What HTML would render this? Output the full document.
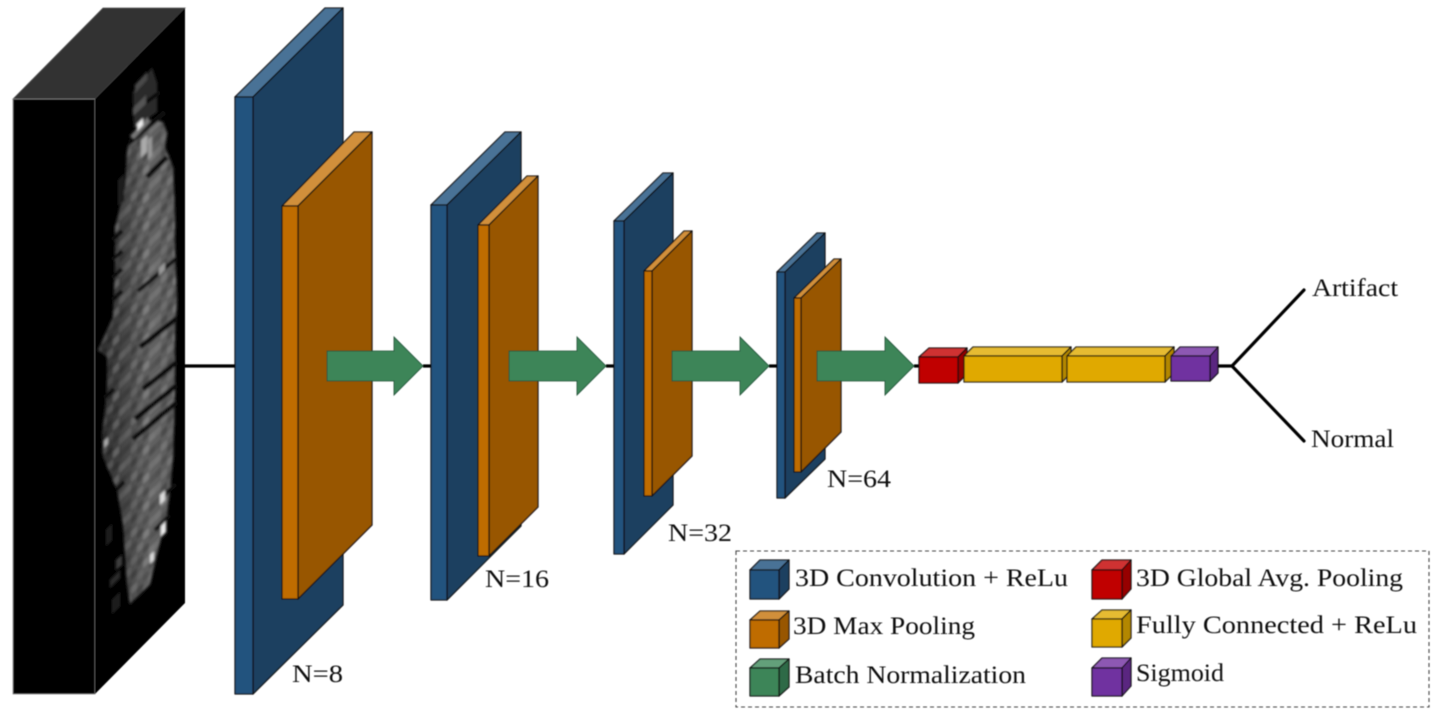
<!DOCTYPE html>
<html><head><meta charset="utf-8"><style>
html,body{margin:0;padding:0;background:#fff;width:1442px;height:717px;overflow:hidden}
svg{display:block}
text{font-family:"Liberation Serif",serif;font-size:25px;fill:#111}
.bl .f{fill:#24527e}.bl .s{fill:#1a3f60}.bl .t{fill:#4a7296}
.or .f{fill:#bf6c00}.or .s{fill:#985700}.or .t{fill:#d18f3a}
.gr .f{fill:#3c8558}.gr .s{fill:#2f6b46}.gr .t{fill:#63a07a}
.re .f{fill:#c00000}.re .s{fill:#960000}.re .t{fill:#cf3333}
.ye .f{fill:#e0a900}.ye .s{fill:#b38700}.ye .t{fill:#e6bb33}
.pu .f{fill:#7030a0}.pu .s{fill:#5a2680}.pu .t{fill:#8d59b3}
.b polygon{stroke:#111;stroke-opacity:.9;stroke-width:1.3;stroke-linejoin:round}
.l line{stroke:#000;stroke-width:3.2}
.d line{stroke:#0a0a0a}
</style></head><body>
<svg width="1442" height="717" viewBox="0 0 1442 717" xmlns="http://www.w3.org/2000/svg">
<defs>
<filter id="soft" x="-2%" y="-2%" width="104%" height="104%"><feGaussianBlur stdDeviation="0.45"/></filter>
<filter id="blur1" filterUnits="userSpaceOnUse" x="90" y="0" width="100" height="700"><feGaussianBlur stdDeviation="1.1"/></filter>
<linearGradient id="lg" gradientUnits="userSpaceOnUse" x1="100" y1="0" x2="176" y2="0">
<stop offset="0" stop-color="#2e2e2e"/><stop offset=".35" stop-color="#484848"/><stop offset=".65" stop-color="#626262"/><stop offset="1" stop-color="#5a5a5a"/>
</linearGradient>
<pattern id="cells" width="30" height="56" patternUnits="userSpaceOnUse" patternTransform="matrix(1 -1.01 0 1 95 99)">
<rect x="0" y="0" width="6" height="7" fill="#fff" opacity=".10"/>
<rect x="12" y="0" width="6" height="7" fill="#000" opacity=".18"/>
<rect x="24" y="0" width="6" height="7" fill="#fff" opacity=".14"/>
<rect x="6" y="7" width="6" height="7" fill="#000" opacity=".2"/>
<rect x="18" y="7" width="6" height="7" fill="#fff" opacity=".18"/>
<rect x="0" y="14" width="6" height="7" fill="#000" opacity=".12"/>
<rect x="12" y="14" width="6" height="7" fill="#fff" opacity=".08"/>
<rect x="24" y="14" width="6" height="7" fill="#000" opacity=".2"/>
<rect x="6" y="21" width="6" height="7" fill="#fff" opacity=".15"/>
<rect x="18" y="21" width="6" height="7" fill="#000" opacity=".14"/>
<rect x="0" y="28" width="6" height="7" fill="#fff" opacity=".12"/>
<rect x="12" y="28" width="6" height="7" fill="#000" opacity=".22"/>
<rect x="24" y="28" width="6" height="7" fill="#fff" opacity=".1"/>
<rect x="6" y="35" width="6" height="7" fill="#000" opacity=".15"/>
<rect x="18" y="35" width="6" height="7" fill="#fff" opacity=".2"/>
<rect x="0" y="42" width="6" height="7" fill="#000" opacity=".16"/>
<rect x="12" y="42" width="6" height="7" fill="#fff" opacity=".14"/>
<rect x="24" y="42" width="6" height="7" fill="#000" opacity=".12"/>
<rect x="6" y="49" width="6" height="7" fill="#fff" opacity=".1"/>
<rect x="18" y="49" width="6" height="7" fill="#000" opacity=".2"/>
</pattern>
<clipPath id="sideclip"><polygon points="95,99 185,8 185,603 95,694"/></clipPath>
</defs>

<g filter="url(#soft)">
<!-- input volume -->
<polygon points="13,99 103,8 185,8 95,99" fill="#333" stroke="#555" stroke-width=".8"/>
<polygon points="13,99 95,99 95,694 13,694" fill="#000" stroke="#888" stroke-width=".8"/>
<polygon points="95,99 185,8 185,603 95,694" fill="#060606"/>
<g clip-path="url(#sideclip)">
  <g filter="url(#blur1)">
    <polygon points="133,92 152,68 157,83 157,112 134,128" fill="#2c2c2c"/>
    <polygon points="128,146 150,120 163,122 167,133 165,147 173,167 175,217 175,250 177,300 175,333 175,390 173,457 170,490 167,514 157,554 150,584 130,604 127,584 123,524 117,490 103,457 102,434 107,390 107,357 98,350 113,317 115,267 115,227 125,187 127,153" fill="url(#lg)"/>
    <polygon points="128,146 150,120 163,122 167,133 165,147 173,167 175,217 175,250 177,300 175,333 175,390 173,457 170,490 167,514 157,554 150,584 130,604 127,584 123,524 117,490 103,457 102,434 107,390 107,357 98,350 113,317 115,267 115,227 125,187 127,153" fill="url(#cells)"/>
    <g class="d">
      <line x1="133" y1="112" x2="160" y2="92" stroke-width="4"/>
      <line x1="129" y1="143" x2="165" y2="112" stroke-width="5"/>
      <line x1="147" y1="177" x2="167" y2="157" stroke-width="5"/>
      <line x1="138" y1="291" x2="177" y2="258" stroke-width="4"/>
      <line x1="140" y1="347" x2="177" y2="318" stroke-width="5"/>
      <line x1="143" y1="389" x2="177" y2="362" stroke-width="5"/>
      <line x1="135" y1="419" x2="177" y2="385" stroke-width="5"/>
      <line x1="133" y1="439" x2="177" y2="402" stroke-width="5"/>
      <line x1="112" y1="240" x2="122" y2="231" stroke-width="4"/>
      <line x1="112" y1="260" x2="122" y2="251" stroke-width="4"/>
      <line x1="112" y1="278" x2="122" y2="269" stroke-width="4"/>
      <line x1="112" y1="300" x2="122" y2="291" stroke-width="4"/>
      <line x1="104" y1="398" x2="114" y2="389" stroke-width="4"/>
      <line x1="155" y1="530" x2="170" y2="515" stroke-width="4"/>
      <line x1="116" y1="490" x2="124" y2="482" stroke-width="4"/>
      <line x1="162" y1="497" x2="176" y2="484" stroke-width="4"/>
    </g>
    <polygon points="130,136 148,117 150,122 134,139" fill="#777"/>
    <polygon points="137,124 143,118 143,125 137,131" fill="#f0f0f0"/>
    <polygon points="141,140 147,135 147,152 141,158" fill="#aaa"/>
    <polygon points="148,140 152,136 152,156 148,160" fill="#999"/>
    <polygon points="159,268 165,262 165,270 159,276" fill="#999"/>
    <polygon points="104,441 108,437 108,444 104,448" fill="#aaa"/>
    <polygon points="160,495 165,490 165,500 160,505" fill="#ddd"/>
    <polygon points="161,526 166,521 166,532 161,537" fill="#eee"/>
    <polygon points="150,555 154,551 154,560 150,564" fill="#ddd"/>
    <polygon points="135,85 147,72 147,80 135,93" fill="#4a4a4a"/>
    <polygon points="133,108 146,95 146,104 133,116" fill="#555"/>
    <polygon points="110,580 120,570 120,578 110,588" fill="#2c2c2c"/>
    <polygon points="116,560 122,555 122,565 116,570" fill="#3c3c3c"/>
    <polygon points="106,530 112,524 112,540 106,546" fill="#1e1e1e"/>
    <polygon points="112,600 120,592 120,606 112,614" fill="#1e1e1e"/>
    <polygon points="118,180 124,174 124,200 118,206" fill="#1a1a1a"/>
  </g>
</g>

<!-- connectors under blocks -->
<g class="l">
<line x1="185" y1="366" x2="236" y2="366"/>
<line x1="423" y1="366" x2="432" y2="366"/>
<line x1="606" y1="366" x2="615" y2="366"/>
<line x1="769" y1="366" x2="778" y2="366"/>
<line x1="914" y1="366" x2="920" y2="366"/>
<line x1="1210" y1="366" x2="1232" y2="366"/>
<line x1="1232" y1="366" x2="1304" y2="290" stroke-linecap="round"/>
<line x1="1232" y1="366" x2="1304" y2="441" stroke-linecap="round"/>
</g>

<!-- block 1 -->
<g class="b bl"><polygon class="t" points="235,97 325,8 343,8 253,97"/><polygon class="s" points="253,97 343,8 343,605 253,694"/><polygon class="f" points="235,97 253,97 253,694 235,694"/></g>
<g class="b or"><polygon class="t" points="282,206 354,132 372,132 298,206"/><polygon class="s" points="298,206 372,132 372,525 298,599"/><polygon class="f" points="282,206 298,206 298,599 282,599"/></g>
<polygon points="327,351 394,351 394,337 423,366 394,395 394,381 327,381" fill="#3c8558" stroke="#1c4a30" stroke-width=".8"/>

<!-- block 2 -->
<g class="b bl"><polygon class="t" points="431,205 505,132 521,132 447,205"/><polygon class="s" points="447,205 521,132 521,526 447,600"/><polygon class="f" points="431,205 447,205 447,600 431,600"/></g>
<g class="b or"><polygon class="t" points="478,225 527,176 538,176 489,225"/><polygon class="s" points="489,225 538,176 538,507 489,556"/><polygon class="f" points="478,225 489,225 489,556 478,556"/></g>
<polygon points="509,351 577,351 577,337 606,366 577,395 577,381 509,381" fill="#3c8558" stroke="#1c4a30" stroke-width=".8"/>

<!-- block 3 -->
<g class="b bl"><polygon class="t" points="614,221 663,173 673,173 624,221"/><polygon class="s" points="624,221 673,173 673,505 624,554"/><polygon class="f" points="614,221 624,221 624,554 614,554"/></g>
<g class="b or"><polygon class="t" points="644,271 684,231 692,231 652,271"/><polygon class="s" points="652,271 692,231 692,456 652,496"/><polygon class="f" points="644,271 652,271 652,496 644,496"/></g>
<polygon points="672,351 740,351 740,337 769,366 740,395 740,381 672,381" fill="#3c8558" stroke="#1c4a30" stroke-width=".8"/>

<!-- block 4 -->
<g class="b bl"><polygon class="t" points="777,272 817,233 825,233 785,272"/><polygon class="s" points="785,272 825,233 825,459 785,498"/><polygon class="f" points="777,272 785,272 785,498 777,498"/></g>
<g class="b or"><polygon class="t" points="794,298 834,259 841,259 801,298"/><polygon class="s" points="801,298 841,259 841,432 801,472"/><polygon class="f" points="794,298 801,298 801,472 794,472"/></g>
<polygon points="817,351 885,351 885,337 914,366 885,395 885,381 817,381" fill="#3c8558" stroke="#1c4a30" stroke-width=".8"/>

<!-- dense layers -->
<g class="b re"><polygon class="t" points="919,357 929,348 967,348 958,357"/><polygon class="s" points="958,357 967,348 967,374 958,383"/><polygon class="f" points="919,357 958,357 958,383 919,383"/></g>
<g class="b ye"><polygon class="t" points="964,356 973,347 1071,347 1062,356"/><polygon class="s" points="1062,356 1071,347 1071,373 1062,382"/><polygon class="f" points="964,356 1062,356 1062,382 964,382"/></g>
<g class="b ye"><polygon class="t" points="1067,356 1076,347 1174,347 1165,356"/><polygon class="s" points="1165,356 1174,347 1174,373 1165,382"/><polygon class="f" points="1067,356 1165,356 1165,382 1067,382"/></g>
<g class="b pu"><polygon class="t" points="1171,356 1180,347 1218,347 1210,356"/><polygon class="s" points="1210,356 1218,347 1218,373 1210,381"/><polygon class="f" points="1171,356 1210,356 1210,381 1171,381"/></g>

<!-- legend -->
<rect x="736" y="551" width="693" height="156" fill="none" stroke="#444" stroke-width="1.1" stroke-dasharray="4 3"/>
<g class="b bl"><polygon class="t" points="750,570 760,560 789,560 779,570"/><polygon class="s" points="779,570 789,560 789,589 779,599"/><polygon class="f" points="750,570 779,570 779,599 750,599"/></g>
<g class="b or"><polygon class="t" points="750,620 760,611 789,611 779,620"/><polygon class="s" points="779,620 789,611 789,639 779,648"/><polygon class="f" points="750,620 779,620 779,648 750,648"/></g>
<g class="b gr"><polygon class="t" points="750,668 760,659 789,659 779,668"/><polygon class="s" points="779,668 789,659 789,687 779,696"/><polygon class="f" points="750,668 779,668 779,696 750,696"/></g>
<g class="b re"><polygon class="t" points="1092,570 1102,560 1131,560 1122,570"/><polygon class="s" points="1122,570 1131,560 1131,589 1122,599"/><polygon class="f" points="1092,570 1122,570 1122,599 1092,599"/></g>
<g class="b ye"><polygon class="t" points="1092,619 1102,610 1131,610 1122,619"/><polygon class="s" points="1122,619 1131,610 1131,638 1122,647"/><polygon class="f" points="1092,619 1122,619 1122,647 1092,647"/></g>
<g class="b pu"><polygon class="t" points="1092,668 1102,658 1131,658 1122,668"/><polygon class="s" points="1122,668 1131,658 1131,686 1122,696"/><polygon class="f" points="1092,668 1122,668 1122,696 1092,696"/></g>

<!-- labels -->
<text x="292" y="682" textLength="51" lengthAdjust="spacingAndGlyphs">N=8</text>
<text x="485" y="587" textLength="64" lengthAdjust="spacingAndGlyphs">N=16</text>
<text x="668" y="541" textLength="64" lengthAdjust="spacingAndGlyphs">N=32</text>
<text x="827" y="487" textLength="64" lengthAdjust="spacingAndGlyphs">N=64</text>
<text x="1312" y="296" textLength="86" lengthAdjust="spacingAndGlyphs">Artifact</text>
<text x="1311" y="447" textLength="83" lengthAdjust="spacingAndGlyphs">Normal</text>
<text x="795" y="586" textLength="273" lengthAdjust="spacingAndGlyphs">3D Convolution + ReLu</text>
<text x="793" y="634" textLength="182" lengthAdjust="spacingAndGlyphs">3D Max Pooling</text>
<text x="795" y="683" textLength="231" lengthAdjust="spacingAndGlyphs">Batch Normalization</text>
<text x="1136" y="586" textLength="267" lengthAdjust="spacingAndGlyphs">3D Global Avg. Pooling</text>
<text x="1136" y="633" textLength="281" lengthAdjust="spacingAndGlyphs">Fully Connected + ReLu</text>
<text x="1136" y="681" textLength="88" lengthAdjust="spacingAndGlyphs">Sigmoid</text>
</g>
</svg>
</body></html>
